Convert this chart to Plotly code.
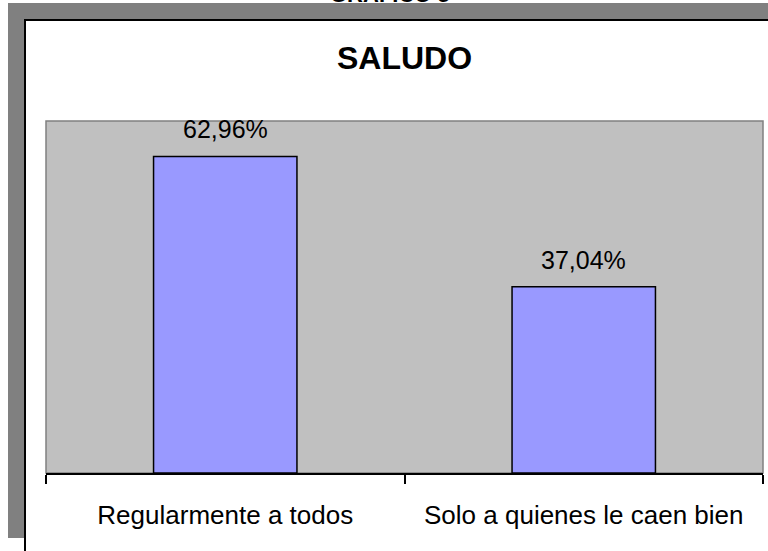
import plotly.graph_objects as go

categorias = ["Regularmente a todos", "Solo a quienes le caen bien"]
porcentajes = [62.96, 37.04]
etiquetas = [f"{v:.2f}%".replace(".", ",") for v in porcentajes]

W, H = 768, 551
ML, MR, MT, MB = 46, 5, 121, 78
PW, PH = W - ML - MR, H - MT - MB
FUENTE = "Liberation Sans, Arial, sans-serif"


def px_x(px):
    # pixel -> paper x
    return (px - ML) / PW


def px_y(py):
    # pixel (from top) -> paper y
    return (H - MB - py) / PH


fig = go.Figure()
fig.add_trace(go.Bar(
    x=categorias,
    y=porcentajes,
    width=0.4,
    marker=dict(color="#9999FF", line=dict(color="#000000", width=1.5)),
    hoverinfo="skip",
))

for cat, val, txt in zip(categorias, porcentajes, etiquetas):
    fig.add_annotation(
        x=cat, y=val, text=txt, showarrow=False,
        xref="x", yref="y", yanchor="bottom", yshift=11,
        font=dict(family=FUENTE, size=25, color="#000000"),
    )

shapes = [
    # sombra gris
    dict(type="rect", xref="paper", yref="paper",
         x0=px_x(8), x1=px_x(820), y0=px_y(538), y1=px_y(3),
         fillcolor="#808080", line=dict(width=0), layer="below"),
    # marco blanco
    dict(type="rect", xref="paper", yref="paper",
         x0=px_x(25), x1=px_x(830), y0=px_y(620), y1=px_y(20),
         fillcolor="#FFFFFF", line=dict(color="#000000", width=2), layer="below"),
    # area de trazado
    dict(type="rect", xref="paper", yref="paper",
         x0=0, x1=1, y0=0, y1=1,
         fillcolor="#C0C0C0", line=dict(color="#808080", width=1.5), layer="below"),
]

fig.add_annotation(
    text="<b>SALUDO</b>", xref="paper", yref="paper",
    x=px_x(404), y=px_y(58), yanchor="middle", showarrow=False,
    font=dict(family=FUENTE, size=32, color="#000000"),
)
fig.add_annotation(
    text="<b>GRAFICO 5</b>", xref="paper", yref="paper",
    x=px_x(390), y=px_y(9), yanchor="bottom", xanchor="center", showarrow=False,
    font=dict(family=FUENTE, size=22, color="#000000"),
)

fig.update_layout(
    width=W, height=H,
    margin=dict(l=ML, r=MR, t=MT, b=MB, pad=0),
    paper_bgcolor="#FFFFFF",
    plot_bgcolor="rgba(0,0,0,0)",
    showlegend=False,
    shapes=shapes,
    font=dict(family=FUENTE, size=26, color="#000000"),
    xaxis=dict(
        showline=True, linecolor="#000000", linewidth=2,
        ticks="outside", tickson="boundaries", ticklen=9, tickwidth=1.5, tickcolor="#000000",
        ticklabelstandoff=18,
        showgrid=False, zeroline=False,
        tickfont=dict(family=FUENTE, size=26, color="#000000"),
    ),
    yaxis=dict(range=[0, 70], visible=False, showgrid=False, zeroline=False),
)

fig.write_html("out.html", config={"displayModeBar": False},
               post_script="document.body.style.margin='0';")
